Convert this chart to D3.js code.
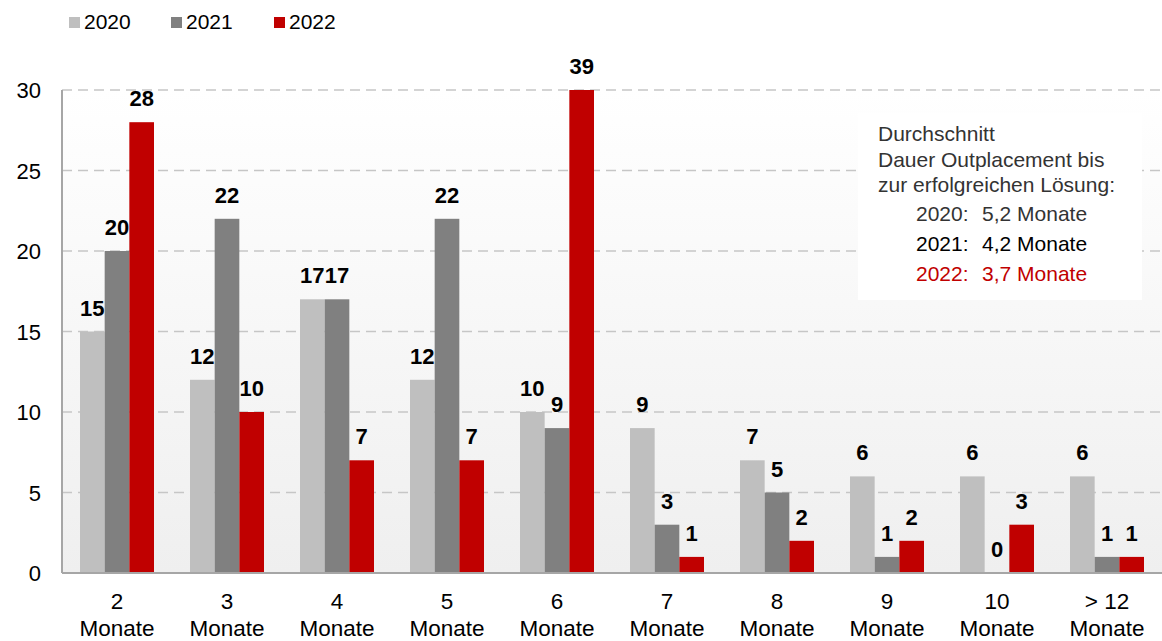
<!DOCTYPE html>
<html><head><meta charset="utf-8">
<script src="https://cdn.jsdelivr.net/npm/d3@7"></script>
<style>body{margin:0;background:#fff}svg{display:block;font-family:"Liberation Sans",Arial,sans-serif}</style>
</head><body><svg id="c" width="1162" height="641"></svg>
<script>
const categories = ["2|Monate","3|Monate","4|Monate","5|Monate","6|Monate","7|Monate","8|Monate","9|Monate","10|Monate","> 12|Monate"];
const series = ["2020","2021","2022"];
const values2020 = [15,12,17,12,10,9,7,6,6,6];
const values2021 = [20,22,17,22,9,3,5,1,0,1];
const values2022 = [28,10,7,7,39,1,2,2,3,1];
const yTicks = [0,5,10,15,20,25,30];
const colors = ["#bfbfbf","#808080","#c00000"];
const noteLines = ["Durchschnitt","Dauer Outplacement bis","zur erfolgreichen Lösung:"];
const noteYears = [["2020:","5,2 Monate","#333"],["2021:","4,2 Monate","#000"],["2022:","3,7 Monate","#c00000"]];

const svg = d3.select("#c");
const L = 62, R = 1162, T = 90, B = 573;
const defs = svg.append("defs");
const g = defs.append("linearGradient").attr("id","bg").attr("x1",0).attr("y1",0).attr("x2",0).attr("y2",1);
g.append("stop").attr("offset","0%").attr("stop-color","#ffffff");
g.append("stop").attr("offset","100%").attr("stop-color","#efefef");
svg.append("rect").attr("x",L).attr("y",T).attr("width",R-L).attr("height",B-T).attr("fill","url(#bg)");

const x = d3.scaleBand().domain(categories).range([L,R]).paddingInner(0).paddingOuter(0);
const xs = d3.scaleBand().domain(series).range([0,74]);
const y = d3.scaleLinear().domain([0,30]).range([B,T]);

// gridlines
svg.append("g").selectAll("line").data(yTicks.filter(d=>d>0)).join("line")
  .attr("x1",L).attr("x2",R).attr("y1",d=>y(d)).attr("y2",d=>y(d))
  .attr("stroke","#c6c6c6").attr("stroke-width",1.5).attr("stroke-dasharray","10,6");

const data = [values2020,values2021,values2022];
const bars = [];
categories.forEach((c,i)=>series.forEach((s,j)=>bars.push({c,s,j,v:data[j][i]})));
const off = (x.bandwidth()-74)/2;
svg.append("g").selectAll("rect").data(bars).join("rect")
  .attr("x",d=>x(d.c)+off+xs(d.s)).attr("width",xs.bandwidth())
  .attr("y",d=>y(Math.min(d.v,30))).attr("height",d=>B-y(Math.min(d.v,30)))
  .attr("fill",d=>colors[d.j]);
svg.append("g").selectAll("text").data(bars).join("text")
  .attr("x",d=>x(d.c)+off+xs(d.s)+xs.bandwidth()/2)
  .attr("y",d=>y(Math.min(d.v,30))-16)
  .attr("text-anchor","middle").attr("font-weight","bold").attr("font-size",22).attr("fill","#000")
  .text(d=>d.v);

// axes lines
svg.append("line").attr("x1",L).attr("x2",L).attr("y1",T).attr("y2",B).attr("stroke","#a6a6a6").attr("stroke-width",2);
svg.append("line").attr("x1",L).attr("x2",R).attr("y1",B).attr("y2",B).attr("stroke","#a6a6a6").attr("stroke-width",2);

// y labels
svg.append("g").selectAll("text").data(yTicks).join("text")
  .attr("x",41).attr("y",d=>y(d)+8).attr("text-anchor","end").attr("font-size",22).attr("fill","#000").text(d=>d);

// x labels
const xl = svg.append("g").selectAll("text").data(categories).join("text")
  .attr("text-anchor","middle").attr("font-size",22.5).attr("fill","#000");
xl.each(function(d){
  const t = d3.select(this); const cx = x(d)+x.bandwidth()/2; const parts = d.split("|");
  t.append("tspan").attr("x",cx).attr("y",609).text(parts[0]);
  t.append("tspan").attr("x",cx).attr("y",636).text(parts[1]);
});

// legend
const lg = svg.append("g").selectAll("g").data(series).join("g")
  .attr("transform",(d,i)=>`translate(${[69,171,274][i]},0)`);
lg.append("rect").attr("x",0).attr("y",17).attr("width",11).attr("height",11).attr("fill",(d,i)=>colors[i]);
lg.append("text").attr("x",15).attr("y",29).attr("font-size",21).attr("fill","#000").text(d=>d);

// note box
svg.append("rect").attr("x",858).attr("y",113).attr("width",284).attr("height",187).attr("fill","#fff");
noteLines.forEach((t,i)=>svg.append("text").attr("x",878).attr("y",141+i*25.5).attr("font-size",21).attr("fill","#333").text(t));
noteYears.forEach((r,i)=>{
  const yy = 221+i*30;
  svg.append("text").attr("x",916).attr("y",yy).attr("font-size",21).attr("fill",r[2]).text(r[0]);
  svg.append("text").attr("x",982).attr("y",yy).attr("font-size",21).attr("fill",r[2]).text(r[1]);
});
</script></body></html>
